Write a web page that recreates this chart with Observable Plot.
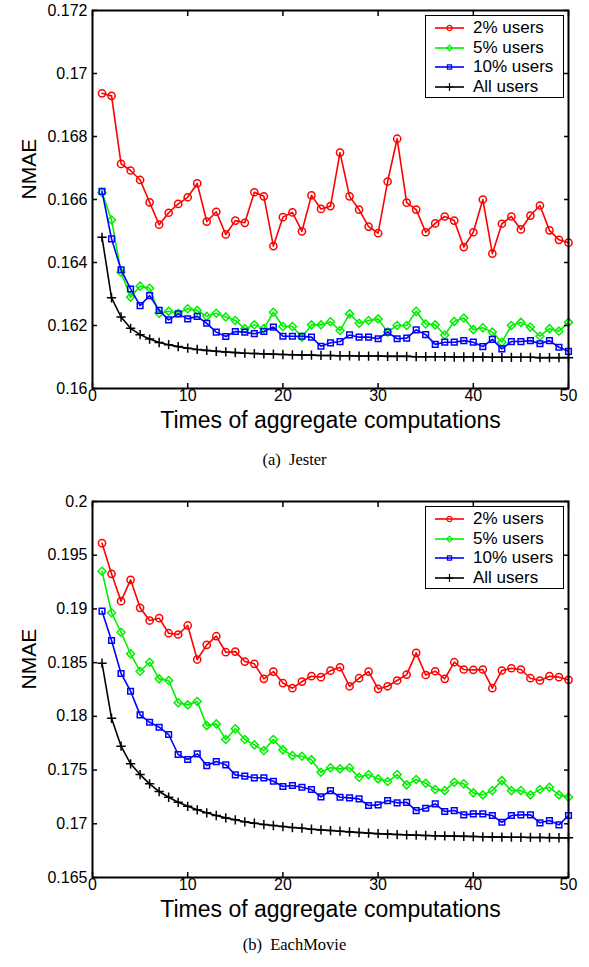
<!DOCTYPE html>
<html>
<head>
<meta charset="utf-8">
<script src="https://cdn.jsdelivr.net/npm/d3@7"></script>
<script src="https://cdn.jsdelivr.net/npm/@observablehq/plot@0.6"></script>
<style>
  body { margin: 0; background: #fff; }
  #wrap { position: relative; width: 589px; height: 967px; font-family: "Liberation Sans", Arial, sans-serif; }
  .chart { position: absolute; left: 0; }
  .caption { position: absolute; left: 0; width: 589px; text-align: center; font-family: "Liberation Serif", "Times New Roman", serif; font-size: 16.5px; color: #000; }
  .legend { position: absolute; border: 1px solid #000; background: #fff; box-sizing: border-box; }
  .legend .row { position: absolute; left: 0; height: 20px; display: flex; align-items: center; }
  .legend .row span { font-size: 17px; margin-left: 8px; line-height: 20px; }
</style>
</head>
<body>
<div id="wrap"></div>
<script>
// ---------- data ----------
const steps = [1,2,3,4,5,6,7,8,9,10,11,12,13,14,15,16,17,18,19,20,21,22,23,24,25,
               26,27,28,29,30,31,32,33,34,35,36,37,38,39,40,41,42,43,44,45,46,47,48,49,50];

const seriesNames = ["2% users", "5% users", "10% users", "All users"];
const seriesColors = ["#ff0000", "#00f000", "#0000ff", "#000000"];
const seriesSymbols = ["circle", "diamond2", "square2", "plus"];

// (a) Jester
const jester2 = [0.16937,0.16929,0.16713,0.16692,0.16662,0.16591,0.16520,0.16558,0.16586,0.16607,
                 0.16651,0.16530,0.16561,0.16489,0.16533,0.16526,0.16623,0.16610,0.16452,0.16544,
                 0.16559,0.16499,0.16613,0.16570,0.16579,0.16749,0.16610,0.16568,0.16514,0.16493,
                 0.16657,0.16793,0.16590,0.16568,0.16496,0.16524,0.16546,0.16533,0.16449,0.16496,
                 0.16600,0.16428,0.16523,0.16546,0.16505,0.16549,0.16581,0.16502,0.16472,0.16463];
const jester5 = [0.16622,0.16535,0.16369,0.16290,0.16325,0.16318,0.16239,0.16245,0.16239,0.16253,
                 0.16248,0.16229,0.16239,0.16227,0.16216,0.16190,0.16202,0.16190,0.16242,0.16197,
                 0.16197,0.16163,0.16202,0.16202,0.16212,0.16184,0.16237,0.16207,0.16216,0.16221,
                 0.16179,0.16200,0.16200,0.16245,0.16205,0.16202,0.16170,0.16213,0.16224,0.16187,
                 0.16193,0.16179,0.16147,0.16200,0.16210,0.16195,0.16166,0.16190,0.16182,0.16210];
const jester10 = [0.16626,0.16475,0.16377,0.16316,0.16263,0.16295,0.16248,0.16218,0.16237,0.16221,
                  0.16229,0.16207,0.16179,0.16165,0.16181,0.16179,0.16174,0.16181,0.16195,0.16166,
                  0.16166,0.16166,0.16163,0.16134,0.16145,0.16149,0.16170,0.16163,0.16163,0.16158,
                  0.16179,0.16158,0.16160,0.16186,0.16171,0.16140,0.16147,0.16147,0.16152,0.16147,
                  0.16133,0.16156,0.16126,0.16149,0.16149,0.16152,0.16142,0.16152,0.16131,0.16118];
const jesterAll = [0.16480,0.16288,0.16227,0.16191,0.16171,0.16157,0.16146,0.16139,0.16133,0.16128,
                   0.16124,0.16121,0.16118,0.16116,0.16114,0.16112,0.16111,0.16110,0.16109,0.16108,
                   0.16107,0.16106,0.16106,0.16105,0.16105,0.16104,0.16104,0.16103,0.16103,0.16103,
                   0.16102,0.16102,0.16102,0.16101,0.16101,0.16101,0.16101,0.16100,0.16100,0.16100,
                   0.16100,0.16099,0.16099,0.16099,0.16099,0.16099,0.16098,0.16098,0.16098,0.16098];
const jesterYTicks = [0.16, 0.162, 0.164, 0.166, 0.168, 0.17, 0.172];

// (b) EachMovie
const each2 = [0.19612,0.19327,0.19072,0.19271,0.19010,0.18892,0.18914,0.18774,0.18762,0.18846,
               0.18529,0.18666,0.18746,0.18597,0.18603,0.18510,0.18489,0.18349,0.18417,0.18310,
               0.18262,0.18324,0.18374,0.18365,0.18425,0.18457,0.18280,0.18355,0.18417,0.18256,
               0.18280,0.18334,0.18389,0.18591,0.18385,0.18420,0.18349,0.18504,0.18436,0.18433,
               0.18436,0.18262,0.18427,0.18448,0.18436,0.18355,0.18334,0.18374,0.18365,0.18340];
const each5 = [0.19351,0.18964,0.18783,0.18582,0.18420,0.18504,0.18349,0.18334,0.18126,0.18107,
               0.18138,0.17914,0.17930,0.17784,0.17884,0.17784,0.17735,0.17682,0.17784,0.17688,
               0.17635,0.17629,0.17595,0.17480,0.17521,0.17511,0.17521,0.17433,0.17458,0.17418,
               0.17393,0.17458,0.17362,0.17412,0.17377,0.17319,0.17309,0.17387,0.17372,0.17288,
               0.17269,0.17309,0.17402,0.17309,0.17309,0.17269,0.17319,0.17340,0.17269,0.17247];
const each10 = [0.18979,0.18706,0.18399,0.18234,0.18014,0.17945,0.17899,0.17831,0.17645,0.17598,
                0.17651,0.17542,0.17579,0.17549,0.17455,0.17443,0.17428,0.17428,0.17396,0.17347,
                0.17356,0.17340,0.17319,0.17250,0.17309,0.17247,0.17241,0.17232,0.17170,0.17176,
                0.17216,0.17195,0.17200,0.17123,0.17145,0.17185,0.17114,0.17123,0.17083,0.17092,
                0.17092,0.17077,0.17014,0.17077,0.17083,0.17083,0.17009,0.17030,0.16990,0.17077];
const eachAll = [0.18495,0.17982,0.17722,0.17558,0.17458,0.17372,0.17300,0.17247,0.17200,0.17163,
                 0.17130,0.17102,0.17077,0.17055,0.17037,0.17018,0.17005,0.16993,0.16984,0.16974,
                 0.16965,0.16959,0.16949,0.16943,0.16937,0.16931,0.16925,0.16919,0.16913,0.16908,
                 0.16904,0.16900,0.16897,0.16894,0.16891,0.16889,0.16887,0.16885,0.16883,0.16881,
                 0.16879,0.16878,0.16876,0.16875,0.16874,0.16873,0.16872,0.16871,0.16870,0.16869];
const eachYTicks = [0.165, 0.17, 0.175, 0.18, 0.185, 0.19, 0.195, 0.2];

const xTicks = [0, 10, 20, 30, 40, 50];
const xLabel = "Times of aggregate computations";
const yLabel = "NMAE";
const captions = ["(a)\u00a0 Jester", "(b)\u00a0 EachMovie"];

// ---------- drawing ----------
const wrap = document.getElementById("wrap");
const fmt = d => String(+d.toFixed(3));

function makeChart(series, yTicks, top, marginTop, height) {
  const yDomain = [yTicks[0], yTicks[yTicks.length - 1]];
  const marks = [];
  series.forEach((vals, i) => {
    const data = steps.map((s, k) => ({x: s, y: vals[k]}));
    marks.push(Plot.line(data, {x: "x", y: "y", stroke: seriesColors[i], strokeWidth: 1.6}));
    marks.push(Plot.dot(data, {x: "x", y: "y", symbol: seriesSymbols[i], r: i === 3 ? 3.1 : 3.6,
      stroke: seriesColors[i], strokeWidth: 1.5, fill: "none"}));
  });
  const chart = Plot.plot({
    width: 589,
    height,
    marginTop,
    marginLeft: 92,
    marginRight: 21,
    marginBottom: 52,
    style: {fontFamily: "Liberation Sans, Arial, sans-serif", background: "#fff", color: "#000"},
    x: {domain: [0, 50]},
    y: {domain: yDomain},
    marks: [
      ...marks,
      Plot.frame({stroke: "#000", strokeWidth: 2}),
      // tick labels
      Plot.axisX(xTicks, {anchor: "bottom", tickSize: 0, tickPadding: 1, fontSize: 16, tickFormat: fmt, label: null}),
      Plot.axisY(yTicks, {anchor: "left", tickSize: 0, tickPadding: 5, fontSize: 16, tickFormat: fmt, label: null}),
      // inward ticks on all four sides
      Plot.axisX(xTicks, {anchor: "bottom", tickSize: 5, dy: -5, fill: "none", strokeWidth: 1.5, label: null}),
      Plot.axisX(xTicks, {anchor: "top", tickSize: 5, dy: 5, fill: "none", strokeWidth: 1.5, label: null}),
      Plot.axisY(yTicks, {anchor: "left", tickSize: 5, dx: 5, fill: "none", strokeWidth: 1.5, label: null}),
      Plot.axisY(yTicks, {anchor: "right", tickSize: 5, dx: -5, fill: "none", strokeWidth: 1.5, label: null}),
      // axis titles
      Plot.text([xLabel], {text: d => d, frameAnchor: "bottom", lineAnchor: "middle", dy: 32, fontSize: 23, fill: "#000"}),
      Plot.text([yLabel], {text: d => d, frameAnchor: "left", dx: -63, rotate: -90, fontSize: 21, fill: "#000"})
    ]
  });
  chart.classList.add("chart");
  chart.style.top = top + "px";
  wrap.appendChild(chart);
}

function makeLegend(left, top) {
  const box = document.createElement("div");
  box.className = "legend";
  box.style.left = left + "px";
  box.style.top = top + "px";
  box.style.width = "139px";
  box.style.height = "83px";
  seriesNames.forEach((name, i) => {
    const row = document.createElement("div");
    row.className = "row";
    row.style.top = (2 + i * 19.6) + "px";
    row.style.left = "9px";
    const svg = d3.create("svg").attr("width", 30).attr("height", 20);
    svg.append("line").attr("x1", 0).attr("x2", 29).attr("y1", 10).attr("y2", 10)
      .attr("stroke", seriesColors[i]).attr("stroke-width", 1.6);
    const symMap = {circle: d3.symbolCircle, diamond2: d3.symbolDiamond2, square2: d3.symbolSquare2, plus: d3.symbolPlus};
    svg.append("path").attr("transform", "translate(14.5,10)")
      .attr("d", d3.symbol(symMap[seriesSymbols[i]], 22)())
      .attr("fill", "none").attr("stroke", seriesColors[i]).attr("stroke-width", 1.2);
    row.appendChild(svg.node());
    const span = document.createElement("span");
    span.textContent = name;
    row.appendChild(span);
    box.appendChild(row);
  });
  wrap.appendChild(box);
}

function makeCaption(text, top) {
  const c = document.createElement("div");
  c.className = "caption";
  c.style.top = top + "px";
  c.textContent = text;
  wrap.appendChild(c);
}

makeChart([jester2, jester5, jester10, jesterAll], jesterYTicks, 0, 10, 440);
makeLegend(425, 15);
makeCaption(captions[0], 450);

makeChart([each2, each5, each10, eachAll], eachYTicks, 490, 11, 439);
makeLegend(425, 506);
makeCaption(captions[1], 935);
</script>
</body>
</html>
